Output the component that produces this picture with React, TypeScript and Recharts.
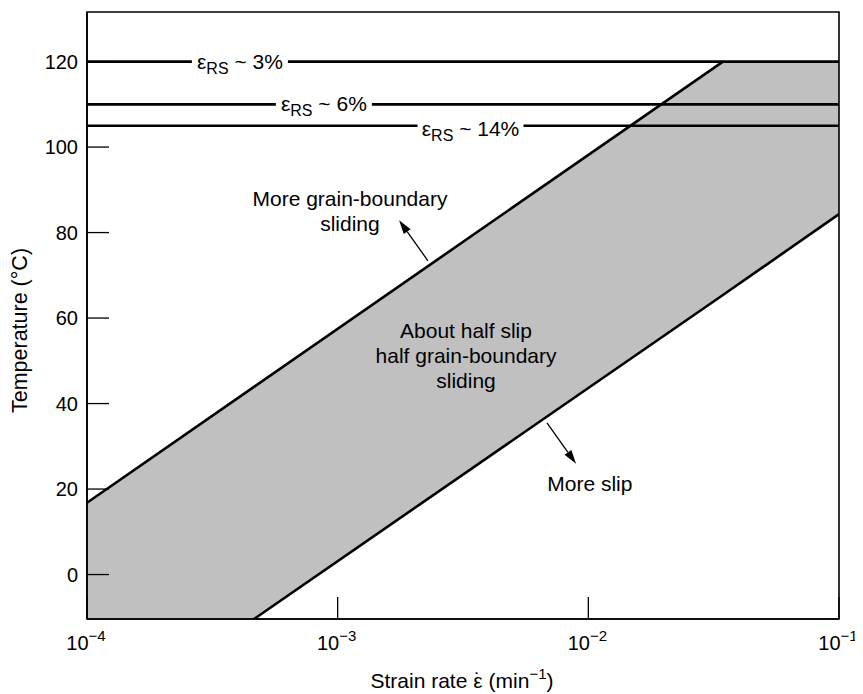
import {
  ComposedChart,
  Area,
  Line,
  XAxis,
  YAxis,
  ReferenceLine,
  ReferenceDot,
  ReferenceArea,
  Label,
} from "recharts";

const FONT = '"Liberation Sans", Arial, Helvetica, sans-serif';

// x is log10 of strain rate (min^-1), read at the corners of the grey band
const strainLog = [-4, -3.334, -1.463, -1];
const upperEdge = [16.8, 43.9, 120, null];
const lowerEdge = [null, -10.4, 65.4, 84.3];
const bandLow = [-10.4, -10.4, 65.4, 84.3];
const bandHigh = [16.8, 43.9, 120, 120];

// residual strain levels
const rsLevels = [120, 110, 105];
const rsLabels = ["3%", "6%", "14%"];
const rsLabelX = [-3.39, -3.055, -2.47];

const xTicks = [-4, -3, -2, -1];
const yTicks = [0, 20, 40, 60, 80, 100, 120];
const xDomain = [-4, -1];
const yDomain = [-10.4, 131.6];

const gbsNote = ["More grain-boundary", "sliding"];
const halfNote = ["About half slip", "half grain-boundary", "sliding"];
const slipNote = ["More slip"];
const gbsArrow = [{ x: -2.64, y: 73.4 }, { x: -2.755, y: 82.9 }];
const slipArrow = [{ x: -2.165, y: 35.5 }, { x: -2.049, y: 25.9 }];

const data = strainLog.map((x, i) => ({
  x,
  upper: upperEdge[i],
  lower: lowerEdge[i],
  band: [bandLow[i], bandHigh[i]],
}));

const labelBoxW = [96, 96, 106];

const Arrow = (p: any) => {
  const { x1, y1, x2, y2 } = p;
  const a = Math.atan2(y2 - y1, x2 - x1);
  const len = 14;
  const half = 4.2;
  const bx = x2 - len * Math.cos(a);
  const by = y2 - len * Math.sin(a);
  const px = -Math.sin(a) * half;
  const py = Math.cos(a) * half;
  return (
    <g>
      <line x1={x1} y1={y1} x2={bx} y2={by} stroke="#000" strokeWidth={1.3} />
      <polygon
        points={`${x2},${y2} ${bx + px},${by + py} ${bx - px},${by - py}`}
        fill="#000"
      />
    </g>
  );
};

const note = (lines: string[]) => (p: any) => {
  const { cx, cy } = p;
  const top = cy - ((lines.length - 1) * 25) / 2;
  return (
    <text
      fontFamily={FONT}
      fontSize={21}
      fill="#000"
      textAnchor="middle"
      dominantBaseline="central"
    >
      {lines.map((l, i) => (
        <tspan key={i} x={cx} y={top + i * 25}>
          {l}
        </tspan>
      ))}
    </text>
  );
};

const rsLabel = (txt: string, w: number, dy: number) => (p: any) => {
  const { cx, cy } = p;
  return (
    <g>
      <rect x={cx - w / 2} y={cy - 6} width={w} height={12} fill="#fff" />
      <text
        x={cx}
        y={cy + dy}
        fontFamily={FONT}
        fontSize={21}
        fill="#000"
        textAnchor="middle"
      >
        ε
        <tspan fontSize={16} dy={5}>
          RS
        </tspan>
        <tspan dy={-5}> ~ {txt}</tspan>
      </text>
    </g>
  );
};

const YTick = (p: any) => {
  const { x, y, payload } = p;
  return (
    <g>
      <line x1={x + 9} y1={y} x2={x + 31} y2={y} stroke="#000" strokeWidth={1.3} />
      <text
        x={x}
        y={y}
        fontFamily={FONT}
        fontSize={20}
        fill="#000"
        textAnchor="end"
        dominantBaseline="central"
      >
        {payload.value}
      </text>
    </g>
  );
};

const XTick = (p: any) => {
  const { x, y, payload } = p;
  return (
    <g>
      <line x1={x} y1={y} x2={x} y2={y - 22} stroke="#000" strokeWidth={1.3} />
      <text x={x - 1} y={y + 31} fontFamily={FONT} fontSize={20} fill="#000" textAnchor="middle">
        10
        <tspan fontSize={15} dy={-9}>
          {"\u2212" + Math.abs(payload.value)}
        </tspan>
      </text>
    </g>
  );
};

export default function App() {
  return (
    <div>
      <ComposedChart
        width={855}
        height={686}
        data={data}
        margin={{ top: 4, right: 24, bottom: 0, left: 0 }}
      >
        <Area
          type="linear"
          dataKey="band"
          fill="#c0c0c0"
          fillOpacity={1}
          stroke="none"
          isAnimationActive={false}
        />
        <ReferenceArea
          x1={xDomain[0]}
          x2={xDomain[1]}
          y1={yDomain[0]}
          y2={yDomain[1]}
          fill="none"
          stroke="#000"
          strokeWidth={1.6}
        />
        {rsLevels.map((v) => (
          <ReferenceLine key={v} y={v} stroke="#000" strokeWidth={2.6} />
        ))}
        <Line
          type="linear"
          dataKey="upper"
          stroke="#000"
          strokeWidth={2.6}
          dot={false}
          connectNulls
          isAnimationActive={false}
        />
        <Line
          type="linear"
          dataKey="lower"
          stroke="#000"
          strokeWidth={2.6}
          dot={false}
          connectNulls
          isAnimationActive={false}
        />
        {rsLevels.map((v, i) => (
          <ReferenceDot
            key={"l" + v}
            x={rsLabelX[i]}
            y={v}
            r={1}
            shape={rsLabel(rsLabels[i], labelBoxW[i], i === 2 ? 10 : 7)}
          />
        ))}
        <ReferenceDot x={-2.951} y={85.2} r={1} shape={note(gbsNote)} />
        <ReferenceDot x={-2.488} y={51.4} r={1} shape={note(halfNote)} />
        <ReferenceDot x={-1.994} y={21.5} r={1} shape={note(slipNote)} />
        <ReferenceLine segment={gbsArrow} shape={Arrow} />
        <ReferenceLine segment={slipArrow} shape={Arrow} />
        <XAxis
          dataKey="x"
          type="number"
          domain={xDomain}
          ticks={xTicks}
          allowDataOverflow
          height={75}
          tickSize={0}
          tickMargin={0}
          tick={<XTick />}
          axisLine={{ stroke: "#000", strokeWidth: 1.6 }}
        >
          <Label
            content={(p: any) => {
              const vb = p.viewBox;
              return (
                <text
                  x={vb.x + vb.width / 2 - 1}
                  y={vb.y + 69}
                  fontFamily={FONT}
                  fontSize={21}
                  fill="#000"
                  textAnchor="middle"
                >
                  Strain rate ε
                  <tspan dx={-8.6} dy={-1}>
                    ˙
                  </tspan>
                  <tspan dx={1.8} dy={1}>
                    {" (min"}
                  </tspan>
                  <tspan fontSize={15} dy={-9}>
                    −1
                  </tspan>
                  <tspan dy={9}>)</tspan>
                </text>
              );
            }}
          />
        </XAxis>
        <YAxis
          type="number"
          domain={yDomain}
          ticks={yTicks}
          allowDataOverflow
          width={79}
          tickSize={0}
          tickMargin={9}
          tick={<YTick />}
          axisLine={{ stroke: "#000", strokeWidth: 1.6 }}
        >
          <Label
            content={(p: any) => {
              const vb = p.viewBox;
              const cx = vb.x + 12;
              const cy = vb.y + vb.height / 2 + 15;
              return (
                <text
                  transform={`translate(${cx},${cy}) rotate(-90)`}
                  fontFamily={FONT}
                  fontSize={21.5}
                  fill="#000"
                  textAnchor="middle"
                  dominantBaseline="central"
                >
                  Temperature (°C)
                </text>
              );
            }}
          />
        </YAxis>
      </ComposedChart>
    </div>
  );
}
